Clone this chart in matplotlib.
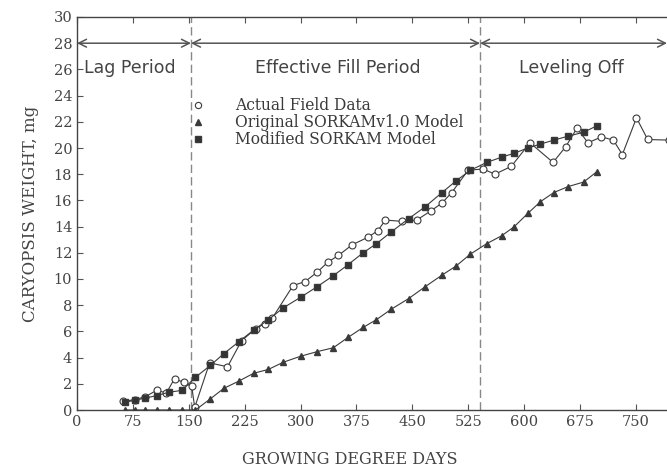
import matplotlib
matplotlib.use("Agg")
import matplotlib.pyplot as plt
from matplotlib.lines import Line2D

# ---- data ----
gdd_model = [65, 78, 91, 107, 123, 141, 159, 179, 197, 217, 237, 257, 277, 300, 322, 344,
             364, 384, 402, 422, 445, 467, 490, 509, 528, 550, 570, 587, 605, 622, 640, 659, 680, 698]
original_model = [0, 0, 0, 0, 0, 0, 0, 0.85, 1.65, 2.2, 2.8, 3.1, 3.65, 4.1, 4.45, 4.75,
                  5.55, 6.3, 6.9, 7.7, 8.5, 9.4, 10.3, 11.0, 11.9, 12.7,
                  13.3, 14.0, 15.0, 15.9, 16.6, 17.05, 17.4, 18.2]
modified_model = [0.6, 0.75, 0.9, 1.1, 1.35, 1.5, 2.5, 3.4, 4.3, 5.2, 6.1, 6.9, 7.8, 8.6, 9.4, 10.25,
                  11.1, 12.0, 12.7, 13.6, 14.6, 15.5, 16.6, 17.5, 18.3, 18.9,
                  19.3, 19.6, 20.0, 20.3, 20.6, 20.9, 21.2, 21.7]
gdd_field = [62, 78, 91, 107, 120, 131, 143, 154, 158, 178, 202, 221, 240, 252, 262, 290, 306, 322,
             337, 351, 369, 391, 404, 414, 436, 456, 475, 490, 503, 525, 545, 561, 583, 608,
             639, 656, 671, 686, 704, 720, 732, 751, 766, 795]
field_data = [0.65, 0.8, 1.0, 1.5, 1.3, 2.4, 2.1, 1.8, 0.2, 3.6, 3.3, 5.3, 6.2, 6.6, 7.0, 9.5, 9.8, 10.5,
              11.3, 11.8, 12.6, 13.2, 13.7, 14.5, 14.4, 14.5, 15.2, 15.8, 16.6, 18.3, 18.4, 18.0, 18.6, 20.4,
              18.9, 20.1, 21.5, 20.4, 20.85, 20.6, 19.5, 22.3, 20.65, 20.6]
phase_bounds = [0, 153, 541, 792]
phase_labels = ["Lag Period", "Effective Fill Period", "Leveling Off"]
phase_label_x = [71, 350, 664]
xticks = [0, 75, 150, 225, 300, 375, 450, 525, 600, 675, 750]
yticks = list(range(0, 31, 2))
legend_labels = ["Actual Field Data", "Original SORKAMv1.0 Model", "Modified SORKAM Model"]

ink = "#3a3a3a"
serif = ["DejaVu Serif"]
sans = ["DejaVu Sans"]

fig = plt.figure(figsize=(6.67, 4.69), dpi=100)
ax = fig.add_axes([77 / 667, 59 / 469, 596 / 667, 393 / 469])
ax.set_xlim(0, 800)
ax.set_ylim(0, 30)

ax.plot(gdd_field, field_data, color=ink, lw=0.8, marker="o", ms=5,
        mfc="white", mec=ink, mew=0.8, zorder=3)
ax.plot(gdd_model, original_model, color=ink, lw=0.8, marker="^", ms=5,
        mfc=ink, mec=ink, zorder=3)
ax.plot(gdd_model, modified_model, color=ink, lw=0.8, marker="s", ms=4.5,
        mfc="#333333", mec=ink, zorder=4)

# phase separators
for xb in phase_bounds[1:3]:
    ax.axvline(xb, color="#888888", lw=1.0, ls=(0, (6, 3)), zorder=1)

# arrows at y=28
for a, b in zip(phase_bounds[:-1], phase_bounds[1:]):
    ax.annotate("", xy=(a, 28), xytext=(b, 28),
                arrowprops=dict(arrowstyle="<->", color="#555555", lw=1.1,
                                shrinkA=0, shrinkB=0, mutation_scale=14))
for lab, xl in zip(phase_labels, phase_label_x):
    ax.text(xl, 26.1, lab, ha="center", va="center", fontsize=12.5,
            family=sans, color="#444444")

# legend
handles = [
    Line2D([], [], ls="none", marker="o", ms=4.5, mfc="white", mec=ink, mew=0.8),
    Line2D([], [], ls="none", marker="^", ms=4.5, mfc=ink, mec=ink),
    Line2D([], [], ls="none", marker="s", ms=4, mfc="#333333", mec=ink),
]
leg = ax.legend(handles, legend_labels, loc="upper left", bbox_to_anchor=(133 / 800, 24.95 / 30),
                frameon=False, handlelength=1.0, handletextpad=1.9, labelspacing=0.0,
                prop={"family": serif, "size": 11.2})
for t in leg.get_texts():
    t.set_color(ink)

ax.set_xticks(xticks)
ax.set_yticks(yticks)
ax.tick_params(direction="in", length=4, width=0.8, colors="#555555",
               labelcolor="#444444", top=True, labelsize=10.5)
for lbl in ax.get_xticklabels() + ax.get_yticklabels():
    lbl.set_family(serif)
ax.spines["right"].set_visible(False)
for s in ["left", "bottom", "top"]:
    ax.spines[s].set_color("#444444")
    ax.spines[s].set_linewidth(1.0)

ax.set_ylabel("CARYOPSIS WEIGHT, mg", family=serif, fontsize=12, color="#444444")
ax.yaxis.set_label_coords(-38 / 596, 0.5)
ax.set_xlabel("GROWING DEGREE DAYS", family=serif, fontsize=11.5, color="#444444")
ax.xaxis.set_label_coords(366 / 800, -0.105)

fig.savefig("out.png", dpi=100)
